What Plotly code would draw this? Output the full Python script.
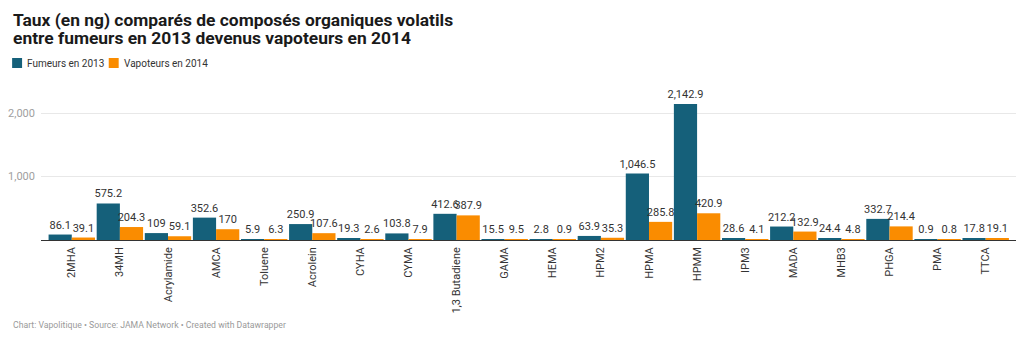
import plotly.graph_objects as go

categories = ["2MHA", "34MH", "Acrylamide", "AMCA", "Toluene", "Acrolein", "CYHA", "CYMA",
              "1,3 Butadiene", "GAMA", "HEMA", "HPM2", "HPMA", "HPMM", "IPM3", "MADA",
              "MHB3", "PHGA", "PMA", "TTCA"]
fumeurs_2013 = [86.1, 575.2, 109, 352.6, 5.9, 250.9, 19.3, 103.8, 412.6, 15.5, 2.8, 63.9,
                1046.5, 2142.9, 28.6, 212.2, 24.4, 332.7, 0.9, 17.8]
vapoteurs_2014 = [39.1, 204.3, 59.1, 170, 6.3, 107.6, 2.6, 7.9, 387.9, 9.5, 0.9, 35.3,
                  285.8, 420.9, 4.1, 132.9, 4.8, 214.4, 0.8, 19.1]
y_ticks = [1000, 2000]

series_names = ["Fumeurs en 2013", "Vapoteurs en 2014"]
colors = ["#15607a", "#fa8c00"]
title_lines = ["Taux (en ng) comparés de composés organiques volatils",
               "entre fumeurs en 2013 devenus vapoteurs en 2014"]
footer = "Chart: Vapolitique • Source: JAMA Network • Created with Datawrapper"
FONT = "Roboto"

W, H = 1024, 339
ML, MR, MT, MB = 37, 8, 94, 99
PW, PH = W - ML - MR, H - MT - MB


def px_x(x):
    """pixel x -> paper x"""
    return (x - ML) / PW


def px_y(y):
    """pixel y (from top) -> paper y"""
    return (H - MB - y) / PH


def fmt(v):
    s = f"{v:,.1f}"
    return s[:-2] if s.endswith(".0") else s


fig = go.Figure()
for name, vals, col in zip(series_names, [fumeurs_2013, vapoteurs_2014], colors):
    fig.add_trace(go.Bar(
        x=categories, y=vals, name=name, marker=dict(color=col, line=dict(width=0)),
        text=[fmt(v) for v in vals], textposition="outside", constraintext="none",
        textfont=dict(family=FONT, size=11, color="#333333"), cliponaxis=False,
        showlegend=False, hoverinfo="skip",
    ))

fig.update_layout(
    width=W, height=H,
    margin=dict(l=ML, r=MR, t=MT, b=MB),
    paper_bgcolor="white", plot_bgcolor="white",
    barmode="group", bargap=0.035, bargroupgap=0,
    font=dict(family=FONT, color="#333333"),
    xaxis=dict(
        type="category", range=[-0.64, 19.63], tickangle=-90,
        tickfont=dict(family=FONT, size=11, color="#333333"),
        showgrid=False, showline=False, ticks="", ticklabelstandoff=4,
    ),
    yaxis=dict(
        range=[0, 2300], tickvals=y_ticks, ticktext=[f"{v:,}" for v in y_ticks],
        tickfont=dict(family=FONT, size=11, color="#a0a0a0"),
        showgrid=True, gridcolor="#e8e8e8", gridwidth=1,
        zeroline=True, zerolinecolor="#333333", zerolinewidth=1,
        showline=False, ticks="", ticklabelstandoff=5,
    ),
)

# Title, two lines
for line, cy in zip(title_lines, [19.5, 38.5]):
    fig.add_annotation(xref="paper", yref="paper", x=px_x(7), y=px_y(cy),
                       text=f"<b>{line}</b>", showarrow=False,
                       xanchor="left", yanchor="middle",
                       font=dict(family=FONT, size=17.4, color="#1a1a1a"))

# Legend: colour squares with labels
for lx, name, col in zip([8, 105], series_names, colors):
    fig.add_shape(type="rect", xref="paper", yref="paper",
                  x0=px_x(lx), x1=px_x(lx + 10), y0=px_y(68), y1=px_y(58),
                  fillcolor=col, line=dict(width=0))
    fig.add_annotation(xref="paper", yref="paper", x=px_x(lx + 13), y=px_y(63),
                       text=name, showarrow=False, xanchor="left", yanchor="middle",
                       font=dict(family=FONT, size=10, color="#333333"))

fig.add_annotation(xref="paper", yref="paper", x=px_x(7), y=px_y(325),
                   text=footer, showarrow=False, xanchor="left", yanchor="middle",
                   font=dict(family=FONT, size=8.7, color="#9a9a9a"))

fig.write_html("out.html")
